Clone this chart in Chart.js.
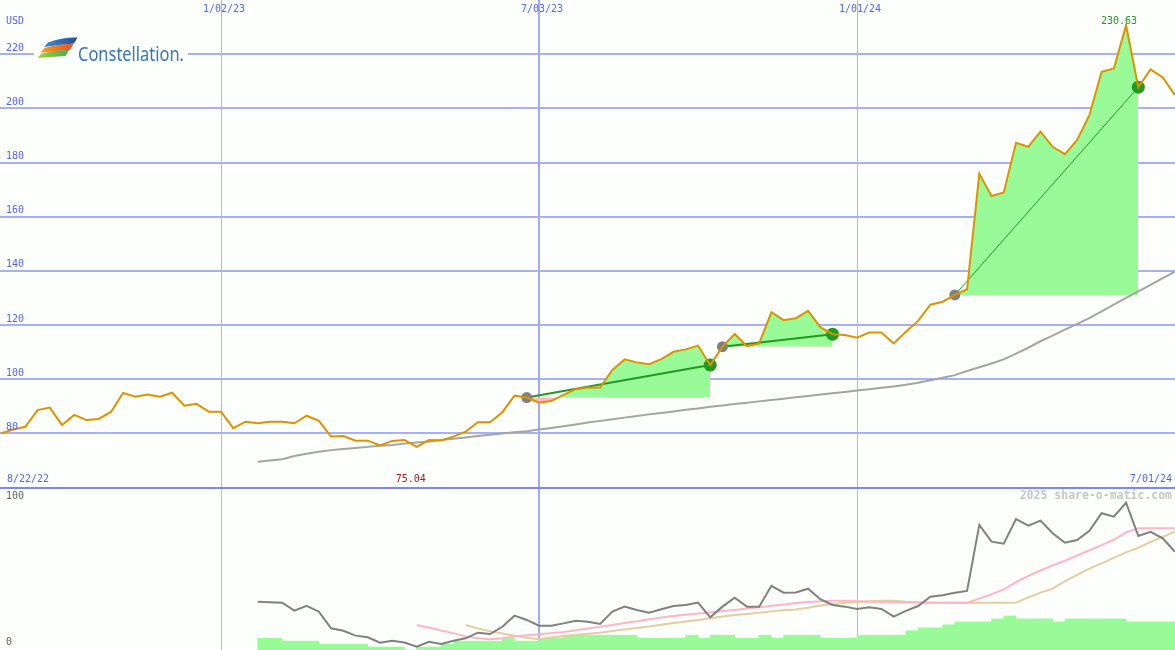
<!DOCTYPE html>
<html>
<head>
<meta charset="utf-8">
<script src="https://cdn.jsdelivr.net/npm/chart.js@4/dist/chart.umd.min.js"></script>
<style>
  html, body { margin: 0; padding: 0; background: #fcfffc; }
  #wrap { width: 1175px; height: 650px; }
</style>
</head>
<body>
<div id="wrap"><canvas id="chart" width="1175" height="650"></canvas></div>
<script>
// weeks are counted from 1/02/23 (week 0)
const xFirstWeek = -18.07, xLastWeek = 78;
const dateTickWeeks = [0, 26, 52];
const dateTickLabels = ['1/02/23', '7/03/23', '1/01/24'];
const rangeLabels = ['8/22/22', '7/01/24'];
const priceTicks = [80, 100, 120, 140, 160, 180, 200, 220];
const panelTicks = [0, 100];

// weekly close, USD
const priceFirstWeek = -18;
const prices = [
  80.0, 81.4, 82.4, 88.6, 89.5, 83.1, 86.8, 84.9, 85.3, 87.9,
  94.9, 93.5, 94.3, 93.5, 95.0, 90.2, 90.9, 88.0, 88.0, 81.9,
  84.3, 83.7, 84.3, 84.3, 83.7, 86.5, 84.6, 78.8, 79.0, 77.3,
  77.3, 75.5, 77.2, 77.5, 75.04, 77.5, 77.4, 78.8, 80.6, 84.1,
  84.1, 87.8, 93.9, 93.2, 91.3, 91.9, 94.2, 96.3, 96.9, 96.9,
  103.4, 107.3, 106.2, 105.5, 107.4, 110.1, 111.0, 112.4, 105.2, 112.0,
  116.7, 112.2, 113.2, 124.7, 121.8, 122.5, 125.2, 119.2, 116.6, 116.3,
  115.3, 117.2, 117.2, 113.2, 117.5, 121.5, 127.5, 128.6, 131.1, 133.2,
  175.8, 167.6, 168.9, 187.3, 185.8, 191.4, 185.8, 183.1, 188.3, 197.5,
  213.5, 214.7, 230.63, 207.8, 214.4, 211.4, 204.9
];

// long moving average of the close
const maFirstWeek = 3;
const priceMA = [
  69.5, 70.0, 70.4, 71.6, 72.5, 73.2, 73.8, 74.2, 74.6, 75.0,
  75.4, 75.7, 76.2, 76.6, 77.0, 77.5, 78.0, 78.5, 79.0, 79.5,
  79.9, 80.4, 80.8, 81.4, 82.0, 82.6, 83.3, 84.0, 84.6, 85.2,
  85.8, 86.4, 87.0, 87.5, 88.1, 88.7, 89.2, 89.8, 90.3, 90.8,
  91.3, 91.8, 92.3, 92.8, 93.3, 93.8, 94.3, 94.8, 95.3, 95.8,
  96.3, 96.8, 97.3, 97.9, 98.7, 99.6, 100.5, 101.5, 103.0, 104.4,
  105.8, 107.3, 109.4, 111.6, 114.0, 116.1, 118.3, 120.4, 122.5, 125.0,
  127.5, 130.0, 132.4, 134.8, 137.3, 139.7
];

// lower panel (0..100)
const oscFirstWeek = 3;
const oscillator = [
  32.6, 32.3, 32.0, 26.6, 29.9, 25.9, 14.7, 13.0, 9.7, 8.6,
  4.9, 6.3, 5.1, 2.2, 5.6, 4.1, 6.3, 7.9, 11.7, 10.8,
  15.7, 23.2, 20.3, 16.4, 16.4, 18.0, 19.8, 19.1, 17.6, 25.9,
  29.3, 27.0, 25.2, 27.5, 29.7, 30.4, 32.0, 22.1, 29.3, 35.3,
  29.3, 29.3, 43.4, 38.7, 38.8, 41.4, 34.3, 30.4, 29.3, 27.7,
  28.9, 27.7, 22.5, 26.4, 29.7, 36.0, 37.0, 38.7, 39.9, 84.5,
  73.2, 71.8, 88.5, 84.0, 87.4, 78.9, 72.5, 74.3, 80.6, 92.4,
  90.1, 99.5, 77.0, 79.9, 75.5, 66.4
];
const fastFirstWeek = 16;
const oscFast = [
  16.9, 15.2, 13.2, 11.4, 9.2, 8.0, 7.3, 7.9, 9.2, 10.0,
  10.6, 11.4, 12.2, 13.3, 14.5, 15.7, 16.9, 18.3, 19.4, 20.8,
  22.0, 23.0, 23.8, 24.6, 25.4, 26.3, 27.1, 28.0, 28.8, 29.9,
  30.8, 31.7, 32.4, 33.0, 33.3, 33.3, 33.0, 32.6, 32.4, 32.3,
  32.2, 32.1, 32.0, 32.0, 32.0, 32.0, 34.7, 37.6, 41.0, 45.8,
  50.0, 53.7, 57.2, 60.3, 63.9, 67.4, 70.9, 74.5, 79.5, 82.2,
  82.2, 82.2, 82.2
];
const slowFirstWeek = 20;
const oscSlow = [
  16.9, 14.6, 12.6, 11.2, 9.7, 8.2, 7.2, 8.5, 9.5, 10.2,
  11.0, 11.7, 12.8, 13.9, 14.9, 15.9, 17.1, 18.2, 19.2, 20.2,
  21.4, 22.6, 23.6, 24.4, 25.2, 26.1, 26.8, 27.4, 28.6, 30.0,
  31.1, 31.9, 32.4, 33.0, 33.3, 33.3, 32.6, 32.2, 32.0, 32.0,
  32.0, 32.0, 32.0, 32.0, 32.0, 32.0, 35.6, 38.8, 41.5, 46.6,
  50.8, 55.0, 58.5, 62.3, 66.0, 69.1, 73.0, 76.5, 79.9
];
const barFirstWeek = 3;
const weeklyBars = [
  8, 8, 6, 6, 6, 4, 4, 4, 4, 2,
  2, 2, 0, 2, 2, 4, 6, 6, 6, 6,
  8, 6, 6, 8, 8, 10, 10, 10, 10, 10,
  10, 8, 8, 8, 8, 10, 8, 10, 10, 8,
  8, 10, 8, 10, 10, 10, 8, 8, 8, 10,
  10, 10, 10, 13, 15, 15, 17, 19, 19, 19,
  21, 23, 21, 21, 21, 19, 21, 21, 21, 21,
  21, 19, 19, 19, 19
];

// trend runs: start week -> end week
const trendStart = [25, 41, 60];
const trendEnd = [40, 50, 75];

const BG = '#fcfffc';
const panelMax = 650 / 1.48;   // lower panel: 0..100 in the bottom 148 px

function series(first, values) {
  return values.map((v, i) => ({ x: first + i, y: v }));
}
function priceAt(w) { return prices[w - priceFirstWeek]; }

const datasets = [];

datasets.push({
  label: 'close', data: series(priceFirstWeek, prices),
  borderColor: '#df9200', borderWidth: 2, pointRadius: 0, tension: 0, order: 1
});

trendStart.forEach((s, k) => {
  const e = trendEnd[k];
  datasets.push({
    label: 'trend' + k, data: [{ x: s, y: priceAt(s) }, { x: e, y: priceAt(e) }],
    borderColor: '#229922', borderWidth: k === 2 ? 1 : 2,
    pointRadius: [5.5, 6.5], pointBackgroundColor: ['#808080', '#229922'],
    pointBorderColor: ['#808080', '#229922'], pointBorderWidth: 0, order: 2
  });
  datasets.push({
    label: 'gain' + k,
    data: series(s, prices.slice(s - priceFirstWeek, e - priceFirstWeek + 1)),
    borderColor: 'rgba(0,0,0,0)', borderWidth: 1, pointRadius: 0, tension: 0,
    fill: { target: { value: priceAt(s) }, above: '#98fb98', below: '#ffb6c1' },
    order: 5
  });
});

datasets.push({
  label: 'ma', data: series(maFirstWeek, priceMA),
  borderColor: '#a4a4a4', borderWidth: 2, pointRadius: 0, order: 4
});

datasets.push({
  label: 'osc', data: series(oscFirstWeek, oscillator), yAxisID: 'y2',
  borderColor: '#808080', borderWidth: 2, pointRadius: 0, order: 6
});
datasets.push({
  label: 'fast', data: series(fastFirstWeek, oscFast), yAxisID: 'y2',
  borderColor: '#ffb4c8', borderWidth: 2, pointRadius: 0, order: 7
});
datasets.push({
  label: 'slow', data: series(slowFirstWeek, oscSlow), yAxisID: 'y2',
  borderColor: '#e6cc9e', borderWidth: 2, pointRadius: 0, order: 8
});
datasets.push({
  type: 'bar', label: 'bars', yAxisID: 'y2',
  data: weeklyBars.map((v, i) => ({ x: barFirstWeek + i + 0.5, y: v })),
  backgroundColor: '#98fb98', borderWidth: 0,
  barPercentage: 1, categoryPercentage: 1, order: 9
});

const background = {
  id: 'background',
  beforeDraw(chart) {
    const c = chart.ctx;
    c.save();
    c.fillStyle = BG;
    c.fillRect(0, 0, chart.width, chart.height);
    c.restore();
  }
};

function drawLogo(c) {
  c.save();
  c.fillStyle = BG;
  c.fillRect(34, 30, 154, 36);
  const stripes = [
    { pts: [[48, 42.5], [77.5, 37.5], [74, 43.5], [44, 47]], from: '#4a97d6', to: '#1d4f9a' },
    { pts: [[44.5, 48], [73.5, 44], [70, 50], [40.5, 52.5]], from: '#f7a21b', to: '#e84a27' },
    { pts: [[41.5, 53.5], [69, 50], [65.5, 56], [37.5, 58]], from: '#a6cf3a', to: '#34a254' }
  ];
  stripes.forEach(s => {
    const g = c.createLinearGradient(38, 0, 77, 0);
    g.addColorStop(0, s.from);
    g.addColorStop(1, s.to);
    c.fillStyle = g;
    c.beginPath();
    c.moveTo(s.pts[0][0], s.pts[0][1]);
    c.quadraticCurveTo((s.pts[0][0] + s.pts[1][0]) / 2, s.pts[1][1] - 0.5, s.pts[1][0], s.pts[1][1]);
    c.lineTo(s.pts[2][0], s.pts[2][1]);
    c.quadraticCurveTo((s.pts[2][0] + s.pts[3][0]) / 2, s.pts[2][1] + 1, s.pts[3][0], s.pts[3][1]);
    c.closePath();
    c.fill();
  });
  c.font = '19px "Noto Sans", "Open Sans", sans-serif';
  c.fillStyle = '#3a74b7';
  c.textBaseline = 'alphabetic';
  c.textAlign = 'left';
  const word = 'Constellation.';
  const w = c.measureText(word).width;
  c.translate(78, 61);
  c.scale(106 / w, 1);
  c.fillText(word, 0, 0);
  c.restore();
}

const texts = {
  id: 'texts',
  afterDraw(chart) {
    const c = chart.ctx;
    const { x, y, y2 } = chart.scales;
    c.save();
    c.font = '10px "DejaVu Sans Mono", monospace';
    c.textBaseline = 'middle';
    c.fillStyle = '#5563ee';
    c.textAlign = 'left';
    c.fillText('USD', 6, 21);
    priceTicks.forEach(v => c.fillText(String(v), 6, y.getPixelForValue(v) - 6));
    c.textAlign = 'center';
    dateTickWeeks.forEach((w, i) => c.fillText(dateTickLabels[i], x.getPixelForValue(w) + 3, 9));
    c.textAlign = 'left';
    c.fillText(rangeLabels[0], 7, 479);
    c.textAlign = 'right';
    c.fillText(rangeLabels[1], 1172, 479);

    // lowest and highest close
    const lo = Math.min(...prices), hi = Math.max(...prices);
    const loW = priceFirstWeek + prices.indexOf(lo);
    const hiW = priceFirstWeek + prices.indexOf(hi);
    c.textAlign = 'center';
    c.fillStyle = '#a01c1c';
    c.fillText(lo.toFixed(2), x.getPixelForValue(loW) - 6, 479);
    c.fillStyle = '#229922';
    c.fillText(hi.toFixed(2), x.getPixelForValue(hiW) - 7, y.getPixelForValue(hi) - 4);

    c.fillStyle = '#606060';
    c.textAlign = 'left';
    panelTicks.forEach(v => c.fillText(String(v), 6, y2.getPixelForValue(v) - (v ? 6 : 8)));

    c.font = 'bold 11.5px "DejaVu Sans Mono", monospace';
    c.fillStyle = '#c6c6c6';
    c.textAlign = 'right';
    c.fillText('2025 share-o-matic.com', 1172, 496);
    c.restore();
    drawLogo(c);
  }
};

new Chart(document.getElementById('chart'), {
  type: 'line',
  data: { datasets },
  options: {
    responsive: false,
    animation: false,
    devicePixelRatio: 1,
    layout: { padding: 0, autoPadding: false },
    plugins: { legend: { display: false }, tooltip: { enabled: false } },
    elements: { line: { tension: 0 } },
    scales: {
      x: {
        type: 'linear', min: xFirstWeek, max: xLastWeek, offset: false,
        afterBuildTicks: s => { s.ticks = dateTickWeeks.map(v => ({ value: v })); },
        ticks: { display: false },
        border: { display: false },
        grid: {
          offset: false,
          drawTicks: false,
          color: c => c.index === 1 ? '#a0a9f2' : '#b3b6e6',
          lineWidth: c => c.index === 1 ? 2 : 1
        }
      },
      y: {
        type: 'linear', position: 'left', min: 0, max: 240,
        afterBuildTicks: s => { s.ticks = [60].concat(priceTicks).map(v => ({ value: v })); },
        ticks: { display: false },
        border: { display: false },
        grid: {
          drawTicks: false,
          color: c => c.tick && c.tick.value === 60 ? '#7b88ee' : '#a6b1f3',
          lineWidth: 2
        }
      },
      y2: {
        type: 'linear', position: 'right', min: 0, max: panelMax,
        display: false
      }
    }
  },
  plugins: [background, texts]
});
</script>
</body>
</html>
